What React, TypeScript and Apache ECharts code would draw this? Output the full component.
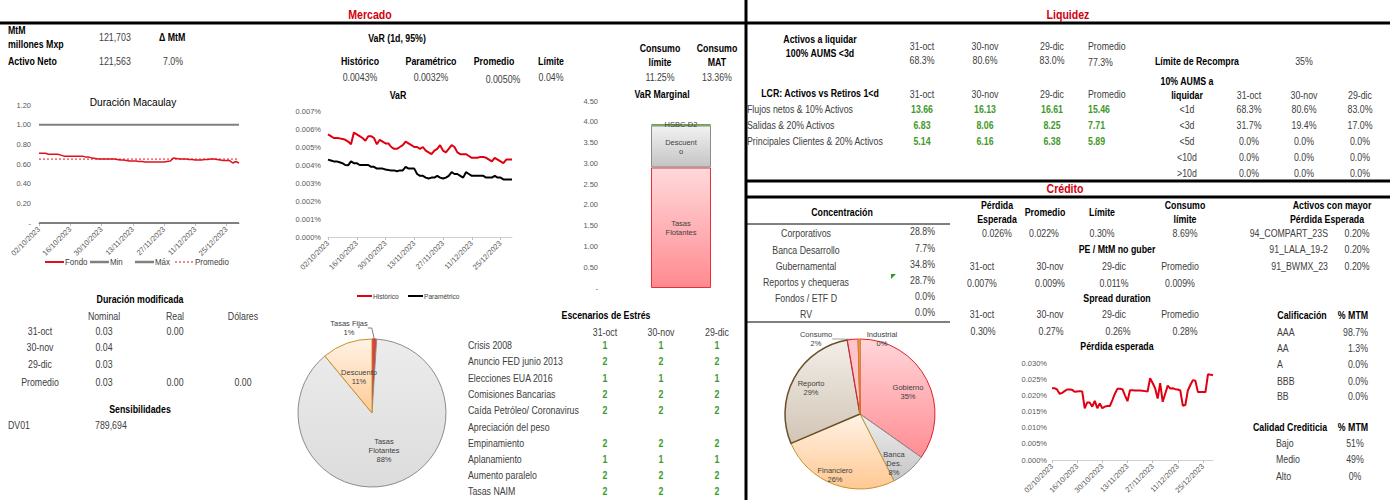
import React, { useEffect, useRef } from 'react';
import * as echarts from 'echarts';

const F = "'Liberation Sans', Arial, sans-serif";

// ---------- DATA ----------
const dates = [
  '02/10/2023','03/10/2023','04/10/2023','05/10/2023','06/10/2023','09/10/2023','10/10/2023','11/10/2023','12/10/2023','13/10/2023',
  '16/10/2023','17/10/2023','18/10/2023','19/10/2023','20/10/2023','23/10/2023','24/10/2023','25/10/2023','26/10/2023','27/10/2023',
  '30/10/2023','31/10/2023','01/11/2023','02/11/2023','03/11/2023','06/11/2023','07/11/2023','08/11/2023','09/11/2023','10/11/2023',
  '13/11/2023','14/11/2023','15/11/2023','16/11/2023','17/11/2023','20/11/2023','21/11/2023','22/11/2023','23/11/2023','24/11/2023',
  '27/11/2023','28/11/2023','29/11/2023','30/11/2023','01/12/2023','04/12/2023','05/12/2023','06/12/2023','07/12/2023','08/12/2023',
  '11/12/2023','12/12/2023','13/12/2023','14/12/2023','15/12/2023','18/12/2023','19/12/2023','20/12/2023','21/12/2023','22/12/2023',
  '25/12/2023','26/12/2023','27/12/2023','28/12/2023','29/12/2023'
];

const durFondo = [
  0.71,0.71,0.71,0.70,0.70,0.70,0.70,0.69,0.68,0.68,
  0.68,0.68,0.68,0.68,0.68,0.67,0.67,0.66,0.655,0.65,
  0.65,0.65,0.65,0.65,0.65,0.645,0.64,0.64,0.635,0.63,
  0.63,0.63,0.625,0.625,0.62,0.62,0.62,0.62,0.62,0.62,
  0.62,0.625,0.63,0.66,0.655,0.65,0.65,0.65,0.645,0.645,
  0.64,0.64,0.64,0.645,0.645,0.65,0.65,0.645,0.64,0.635,
  0.635,0.635,0.61,0.625,0.61
];
const durMin = 0;
const durMax = 1.0;
const durProm = 0.65;

const varHist = [
  0.0057,0.0056,0.0055,0.0055,0.00548,0.00545,0.0054,0.0053,0.00515,0.0058,
  0.0057,0.0056,0.0055,0.00535,0.0056,0.0056,0.0055,0.00515,0.0054,0.0053,
  0.0052,0.0052,0.005,0.0049,0.0049,0.005,0.0051,0.0053,0.0052,0.0051,
  0.005,0.005,0.0049,0.005,0.0048,0.0047,0.0046,0.0048,0.0049,0.0051,
  0.0048,0.0047,0.0049,0.0051,0.005,0.0047,0.0046,0.0046,0.0046,0.0045,
  0.0044,0.0044,0.0044,0.00445,0.00445,0.0044,0.0043,0.0042,0.0044,0.0043,
  0.0042,0.0041,0.0043,0.0043,0.0043
];
const varParam = [
  0.0043,0.00425,0.0042,0.0042,0.00415,0.0041,0.004,0.00398,0.0042,0.0041,
  0.0041,0.004,0.004,0.004,0.004,0.0039,0.0039,0.0038,0.0038,0.0038,
  0.00375,0.00372,0.0037,0.0037,0.00365,0.0037,0.0037,0.0039,0.0038,0.0038,
  0.0038,0.0035,0.0034,0.0034,0.0033,0.00325,0.0033,0.0033,0.0034,0.0033,
  0.00325,0.0033,0.0034,0.0036,0.0035,0.0035,0.0034,0.0033,0.0036,0.0035,
  0.0034,0.0034,0.0034,0.0034,0.0034,0.0033,0.0033,0.0033,0.0034,0.0033,
  0.0033,0.0032,0.0032,0.0032,0.0032
];

const perdida = [
  0.0222,0.0222,0.0218,0.0205,0.0207,0.0213,0.0218,0.0218,0.0217,0.0211,
  0.0212,0.0213,0.0212,0.016,0.0178,0.0178,0.0165,0.0183,0.016,0.0175,
  0.016,0.0165,0.0167,0.0167,0.0185,0.0205,0.022,0.022,0.0219,0.02,
  0.0182,0.0216,0.0216,0.0215,0.0215,0.0215,0.0214,0.0213,0.0212,0.0253,
  0.0238,0.0222,0.019,0.0238,0.018,0.0205,0.023,0.0221,0.0222,0.0219,
  0.0218,0.0215,0.0168,0.017,0.0215,0.0232,0.0247,0.0245,0.021,0.021,
  0.021,0.021,0.0265,0.0264,0.0262
];

const varMargNames = ['Tasas Flotantes', 'Descuento', 'HSBC-D2'];
const varMargLabels = ['Tasas\nFlotantes', 'Descuent\no', 'HSBC-D2'];
const varMargValues = [2.90, 1.01, 0.03];

const pie1Names = ['Tasas Fijas', 'Tasas Flotantes', 'Descuento'];
const pie1Values = [1, 88, 11];

const pie2Names = ['Gobierno', 'Banca Des.', 'Financiero', 'Reporto', 'Consumo', 'Industrial'];
const pie2Values = [34.8, 7.7, 26.1, 28.7, 2.3, 0.4];

// tables
const cutDates = ['31-oct', '30-nov', '29-dic'];
const aums100 = ['68.3%', '80.6%', '83.0%'];
const aums100Avg = '77.3%';
const lcrRows = ['Flujos netos & 10% Activos', 'Salidas & 20% Activos', 'Principales Clientes & 20% Activos'];
const lcrVals = [['13.66', '16.13', '16.61', '15.46'], ['6.83', '8.06', '8.25', '7.71'], ['5.14', '6.16', '6.38', '5.89']];
const aums10Rows = ['<1d', '<3d', '<5d', '<10d', '>10d'];
const aums10Vals = [['68.3%', '80.6%', '83.0%'], ['31.7%', '19.4%', '17.0%'], ['0.0%', '0.0%', '0.0%'], ['0.0%', '0.0%', '0.0%'], ['0.0%', '0.0%', '0.0%']];

const durModRows = ['31-oct', '30-nov', '29-dic', 'Promedio'];
const durModVals = [['0.03', '0.00', ''], ['0.04', '', ''], ['0.03', '', ''], ['0.03', '0.00', '0.00']];

const stressRows = ['Crisis 2008', 'Anuncio FED junio 2013', 'Elecciones EUA 2016', 'Comisiones Bancarias', 'Caída Petróleo/ Coronavirus', 'Apreciación del peso', 'Empinamiento', 'Aplanamiento', 'Aumento paralelo', 'Tasas NAIM'];
const stressVals = [['1', '1', '1'], ['2', '2', '2'], ['1', '1', '1'], ['2', '2', '2'], ['2', '2', '2'], ['', '', ''], ['2', '2', '2'], ['1', '1', '1'], ['2', '2', '2'], ['2', '2', '2']];

const concRows = ['Corporativos', 'Banca Desarrollo', 'Gubernamental', 'Reportos y chequeras', 'Fondos / ETF D', 'RV'];
const concVals = ['28.8%', '7.7%', '34.8%', '28.7%', '0.0%', '0.0%'];

const peVals = ['0.026%', '0.022%', '0.30%', '8.69%'];
const peMtm = ['0.007%', '0.009%', '0.011%', '0.009%'];
const spreadDur = ['0.30%', '0.27%', '0.26%', '0.28%'];

const topPeNames = ['94_COMPART_23S', '91_LALA_19-2', '91_BWMX_23'];
const topPeVals = ['0.20%', '0.20%', '0.20%'];

const califRows = ['AAA', 'AA', 'A', 'BBB', 'BB'];
const califVals = ['98.7%', '1.3%', '0.0%', '0.0%', '0.0%'];
const calidadRows = ['Bajo', 'Medio', 'Alto'];
const calidadVals = ['51%', '49%', '0%'];

const durLegend = ['Fondo', 'Min', 'Máx', 'Promedio'];
const varLegend = ['Histórico', 'Paramétrico'];

// ---------- HELPERS ----------
const TXT = '#404040';
const GREEN = '#3f9a2a';
const RED_T = '#d00010';
const SX = 0.88;

function tx(x: number, y: number, text: string, o: any = {}) {
  const align = o.align || 'center';
  return {
    type: 'text', x, y, silent: true, z: 10, scaleX: o.sx || SX,
    style: {
      text,
      fill: o.color || (o.bold ? '#000' : TXT),
      fontSize: o.size || 10,
      fontWeight: o.bold ? 'bold' : 'normal',
      fontFamily: F,
      align, verticalAlign: 'middle',
      textAlign: align, textVerticalAlign: 'middle',
    },
  };
}
function ln(x1: number, y1: number, x2: number, y2: number, w: number, color = '#000', dash?: number[]) {
  const style: any = { stroke: color, lineWidth: w };
  if (dash) style.lineDash = dash;
  return { type: 'line', silent: true, z: 10, shape: { x1, y1, x2, y2 }, style };
}
function grad(a: string, b: string) {
  return new echarts.graphic.LinearGradient(0, 0, 0, 1, [{ offset: 0, color: a }, { offset: 1, color: b }]);
}

function buildGraphics() {
  const g: any[] = [];
  // structure lines
  g.push(ln(0, 23, 1390, 23, 3));
  g.push(ln(746, 0, 746, 500, 3));
  g.push(ln(746, 181, 1390, 181, 3));
  g.push(ln(746, 197, 1390, 197, 3));
  g.push(ln(746, 224, 950, 224, 1));
  g.push(ln(746, 322, 950, 322, 1));
  // titles
  g.push(tx(370, 15, 'Mercado', { bold: true, color: RED_T, size: 12 }));
  g.push(tx(1068, 15, 'Liquidez', { bold: true, color: RED_T, size: 12 }));
  g.push(tx(1065, 189, 'Crédito', { bold: true, color: RED_T, size: 12 }));

  // Mercado top-left
  g.push(tx(8, 30, 'MtM', { bold: true, align: 'left' }));
  g.push(tx(8, 44, 'millones Mxp', { bold: true, align: 'left' }));
  g.push(tx(99, 37, '121,703', { align: 'left' }));
  g.push(tx(159, 37, 'Δ MtM', { bold: true, align: 'left' }));
  g.push(tx(8, 61, 'Activo Neto', { bold: true, align: 'left' }));
  g.push(tx(99, 61, '121,563', { align: 'left' }));
  g.push(tx(163, 61, '7.0%', { align: 'left' }));

  // VaR header
  g.push(tx(397, 38, 'VaR (1d, 95%)', { bold: true }));
  g.push(tx(360, 61, 'Histórico', { bold: true }));
  g.push(tx(431, 61, 'Paramétrico', { bold: true }));
  g.push(tx(494, 61, 'Promedio', { bold: true }));
  g.push(tx(551, 61, 'Límite', { bold: true }));
  g.push(tx(360, 77, '0.0043%'));
  g.push(tx(431, 77, '0.0032%'));
  g.push(tx(503, 79, '0.0050%'));
  g.push(tx(551, 77, '0.04%'));
  g.push(tx(660, 48, 'Consumo', { bold: true }));
  g.push(tx(660, 62, 'límite', { bold: true }));
  g.push(tx(717, 48, 'Consumo', { bold: true }));
  g.push(tx(717, 62, 'MAT', { bold: true }));
  g.push(tx(660, 77, '11.25%'));
  g.push(tx(717, 77, '13.36%'));
  g.push(tx(398, 95, 'VaR', { bold: true }));
  g.push(tx(662, 94, 'VaR Marginal', { bold: true }));
  g.push(tx(133, 102, 'Duración Macaulay', { color: '#000', size: 11.5 }));

  // Duration legend (Excel style)
  const dlX = [45, 90, 135, 175];
  const dlStyles = [
    { c: '#e0101c', w: 2, d: undefined },
    { c: '#808080', w: 2.5, d: undefined },
    { c: '#808080', w: 2.5, d: undefined },
    { c: '#e0101c', w: 1.2, d: [2, 2] },
  ];
  durLegend.forEach((n, i) => {
    const s = dlStyles[i];
    g.push(ln(dlX[i], 262, dlX[i] + 19, 262, s.w, s.c, s.d));
    g.push(tx(dlX[i] + 20, 262, n, { align: 'left', size: 9 }));
  });
  // VaR legend
  const vlX = [357, 408];
  const vlC = ['#e00010', '#000'];
  varLegend.forEach((n, i) => {
    g.push(ln(vlX[i], 296, vlX[i] + 15, 296, 2, vlC[i]));
    g.push(tx(vlX[i] + 16, 296, n, { align: 'left', size: 7.5 }));
  });

  // Duración modificada
  g.push(tx(140, 299, 'Duración modificada', { bold: true }));
  const dmCols = [104, 175, 243];
  ['Nominal', 'Real', 'Dólares'].forEach((h, i) => g.push(tx(dmCols[i], 316, h)));
  const dmY = [331, 347, 364, 382];
  durModRows.forEach((r, i) => {
    g.push(tx(40, dmY[i], r));
    durModVals[i].forEach((v, j) => { if (v) g.push(tx(dmCols[j], dmY[i], v)); });
  });
  g.push(tx(140, 409, 'Sensibilidades', { bold: true }));
  g.push(tx(8, 425, 'DV01', { align: 'left' }));
  g.push(tx(95, 425, '789,694', { align: 'left' }));

  // Escenarios de estrés
  g.push(tx(606, 315, 'Escenarios de Estrés', { bold: true }));
  const stCols = [605, 661, 717];
  cutDates.forEach((d, i) => g.push(tx(stCols[i], 332, d)));
  const stY = [345, 361, 378, 394, 410, 427, 443, 459, 475, 491];
  stressRows.forEach((r, i) => {
    g.push(tx(468, stY[i], r, { align: 'left' }));
    stressVals[i].forEach((v, j) => { if (v) g.push(tx(stCols[j], stY[i], v, { bold: true, color: GREEN })); });
  });

  // Liquidez
  g.push(tx(820, 39, 'Activos a liquidar', { bold: true }));
  g.push(tx(820, 53, '100% AUMS <3d', { bold: true }));
  const lqCols = [922, 985, 1052];
  cutDates.forEach((d, i) => { g.push(tx(lqCols[i], 46, d)); g.push(tx(lqCols[i], 60, aums100[i])); });
  g.push(tx(1088, 46, 'Promedio', { align: 'left' }));
  g.push(tx(1088, 62, aums100Avg, { align: 'left' }));
  g.push(tx(1155, 61, 'Límite de Recompra', { bold: true, align: 'left' }));
  g.push(tx(1304, 61, '35%'));

  g.push(tx(820, 93, 'LCR: Activos vs Retiros 1<d', { bold: true }));
  cutDates.forEach((d, i) => g.push(tx(lqCols[i], 94, d)));
  g.push(tx(1088, 94, 'Promedio', { align: 'left' }));
  const lcrY = [109, 125, 141];
  lcrRows.forEach((r, i) => {
    g.push(tx(747, lcrY[i], r, { align: 'left' }));
    lcrVals[i].forEach((v, j) => {
      if (j < 3) g.push(tx(lqCols[j], lcrY[i], v, { bold: true, color: GREEN }));
      else g.push(tx(1088, lcrY[i], v, { bold: true, color: GREEN, align: 'left' }));
    });
  });

  g.push(tx(1187, 81, '10% AUMS a', { bold: true }));
  g.push(tx(1187, 95, 'liquidar', { bold: true }));
  const a10Cols = [1249, 1304, 1360];
  cutDates.forEach((d, i) => g.push(tx(a10Cols[i], 95, d)));
  const a10Y = [109, 125, 141, 157, 173];
  aums10Rows.forEach((r, i) => {
    g.push(tx(1187, a10Y[i], r));
    aums10Vals[i].forEach((v, j) => g.push(tx(a10Cols[j], a10Y[i], v)));
  });

  // Crédito
  g.push(tx(842, 212, 'Concentración', { bold: true }));
  const cY = [233, 250, 266, 282, 298, 314];
  concRows.forEach((r, i) => {
    g.push(tx(806, cY[i], r));
    g.push(tx(935, cY[i] - 2, concVals[i], { align: 'right' }));
  });
  g.push({ type: 'polygon', silent: true, shape: { points: [[891, 274], [896, 274], [891, 279]] }, style: { fill: '#2e9a2e' } });

  g.push(tx(997, 205, 'Pérdida', { bold: true }));
  g.push(tx(997, 219, 'Esperada', { bold: true }));
  g.push(tx(1045, 212, 'Promedio', { bold: true }));
  g.push(tx(1102, 212, 'Límite', { bold: true }));
  g.push(tx(1185, 205, 'Consumo', { bold: true }));
  g.push(tx(1185, 219, 'límite', { bold: true }));
  const peCols = [997, 1044, 1102, 1185];
  peVals.forEach((v, i) => g.push(tx(peCols[i], 233, v)));

  const crCols = [982, 1050, 1114, 1180];
  g.push(tx(1117, 249, 'PE / MtM no guber', { bold: true }));
  [...cutDates, 'Promedio'].forEach((d, i) => g.push(tx(crCols[i], 266, d)));
  peMtm.forEach((v, i) => g.push(tx(crCols[i], 283, v)));
  g.push(tx(1117, 298, 'Spread duration', { bold: true }));
  [...cutDates, 'Promedio'].forEach((d, i) => g.push(tx(crCols[i], 314, d)));
  const sdCols = [983, 1051, 1118, 1185];
  spreadDur.forEach((v, i) => g.push(tx(sdCols[i], 331, v)));
  g.push(tx(1117, 346, 'Pérdida esperada', { bold: true }));

  g.push(tx(1332, 205, 'Activos con mayor', { bold: true }));
  g.push(tx(1327, 219, 'Pérdida Esperada', { bold: true }));
  const tpY = [233, 249, 266];
  topPeNames.forEach((n, i) => {
    g.push(tx(1328, tpY[i], n, { align: 'right' }));
    g.push(tx(1357, tpY[i], topPeVals[i]));
  });

  g.push(tx(1302, 315, 'Calificación', { bold: true }));
  g.push(tx(1353, 315, '% MTM', { bold: true }));
  const clY = [332, 348, 364, 381, 396];
  califRows.forEach((r, i) => {
    g.push(tx(1277, clY[i], r, { align: 'left' }));
    g.push(tx(1368, clY[i], califVals[i], { align: 'right' }));
  });
  g.push(tx(1290, 427, 'Calidad Crediticia', { bold: true }));
  g.push(tx(1353, 427, '% MTM', { bold: true }));
  const cdY = [443, 459, 476];
  calidadRows.forEach((r, i) => {
    g.push(tx(1276, cdY[i], r, { align: 'left' }));
    g.push(tx(1355, cdY[i], calidadVals[i]));
  });
  return g;
}

const AXF = 7.5;
const dateAxis = (gi: number, lineColor: string) => ({
  type: 'category', gridIndex: gi, data: dates, boundaryGap: false,
  axisLine: { show: true, lineStyle: { color: lineColor, width: 1 } },
  axisTick: { show: true, interval: 9, length: 3, lineStyle: { color: '#bfbfbf' } },
  axisLabel: { interval: 9, rotate: 45, fontSize: AXF, color: '#595959', margin: 5, fontFamily: F },
  splitLine: { show: false },
});
const valAxis = (gi: number, max: number, interval: number, fmt: (v: number) => string, margin: number) => ({
  type: 'value', gridIndex: gi, min: 0, max, interval,
  axisLine: { show: false }, axisTick: { show: false }, splitLine: { show: false },
  axisLabel: { fontSize: AXF, color: '#595959', margin, formatter: fmt, fontFamily: F },
});

function buildOption() {
  const pie1Colors = [
    { color: '#e04040', borderColor: '#c02020' },
    { color: grad('#ececec', '#dcdcdc'), borderColor: '#8c8c8c' },
    { color: grad('#fff3e6', '#ffca94'), borderColor: '#c8922a' },
  ];
  const pie1Pos = [[349, 328], [384, 450], [359, 377]];
  const pie2Colors = [
    { color: grad('#ffd6d9', '#ff8d93'), borderColor: '#e01f2d' },
    { color: grad('#eeeeee', '#c6c6c6'), borderColor: '#8c8c8c' },
    { color: grad('#fff3e6', '#ffc892'), borderColor: '#c8922a' },
    { color: grad('#f2eee9', '#d2c5b5'), borderColor: '#6b4f2c' },
    { color: '#ffc4cb', borderColor: '#e01f2d' },
    { color: '#ffb060', borderColor: '#d08020' },
  ];
  const pie2Pos = [[908, 392], [894, 463], [835, 475], [811, 388], [816, 339], [882, 339]];

  const splitName = (p: any) => p.name.replace(' ', '\n') + '\n' + p.percent + '%';
  const pieLabel = { formatter: splitName, fontSize: 7.5, color: TXT, lineHeight: 9, fontFamily: F };

  return {
    animation: false,
    backgroundColor: '#fff',
    textStyle: { fontFamily: F },
    grid: [
      { left: 39, top: 105, width: 200, height: 118 },
      { left: 328, top: 111, width: 184, height: 126 },
      { left: 651, top: 101, width: 60, height: 187 },
      { left: 1052, top: 363, width: 161, height: 97 },
    ],
    xAxis: [
      dateAxis(0, '#808080'),
      dateAxis(1, '#d0d0d0'),
      { type: 'category', gridIndex: 2, data: ['VaR Marginal'], show: false },
      dateAxis(3, '#d0d0d0'),
    ],
    yAxis: [
      valAxis(0, 1.2, 0.2, (v: number) => (v === 0 ? '-' : v.toFixed(2)), 8),
      valAxis(1, 0.007, 0.001, (v: number) => v.toFixed(3) + '%', 7),
      valAxis(2, 4.5, 0.5, (v: number) => (v === 0 ? '-' : v.toFixed(2)), 53),
      valAxis(3, 0.03, 0.005, (v: number) => v.toFixed(3) + '%', 5),
    ],
    series: [
      { name: 'Min', type: 'line', xAxisIndex: 0, yAxisIndex: 0, data: dates.map(() => durMin), symbol: 'none', clip: false, lineStyle: { color: '#808080', width: 2 }, itemStyle: { color: '#808080' } },
      { name: 'Máx', type: 'line', xAxisIndex: 0, yAxisIndex: 0, data: dates.map(() => durMax), symbol: 'none', lineStyle: { color: '#808080', width: 2 }, itemStyle: { color: '#808080' } },
      { name: 'Promedio', type: 'line', xAxisIndex: 0, yAxisIndex: 0, data: dates.map(() => durProm), symbol: 'none', lineStyle: { color: '#e0101c', width: 1, type: [2, 2] }, itemStyle: { color: '#e0101c' } },
      { name: 'Fondo', type: 'line', xAxisIndex: 0, yAxisIndex: 0, data: durFondo, symbol: 'none', z: 5, lineStyle: { color: '#e0101c', width: 1.5 }, itemStyle: { color: '#e0101c' } },

      { name: 'Histórico', type: 'line', xAxisIndex: 1, yAxisIndex: 1, data: varHist, symbol: 'none', lineStyle: { color: '#e00010', width: 2 }, itemStyle: { color: '#e00010' } },
      { name: 'Paramétrico', type: 'line', xAxisIndex: 1, yAxisIndex: 1, data: varParam, symbol: 'none', lineStyle: { color: '#000', width: 2 }, itemStyle: { color: '#000' } },

      ...varMargNames.map((n, i) => ({
        name: n, type: 'bar', stack: 'vm', xAxisIndex: 2, yAxisIndex: 2, barWidth: '100%',
        data: [varMargValues[i]],
        itemStyle: i === 0
          ? { color: grad('#ffd9db', '#ff8a90'), borderColor: '#e8303a', borderWidth: 1 }
          : i === 1
            ? { color: grad('#f2f2f2', '#c4c4c4'), borderColor: '#8c8c8c', borderWidth: 1 }
            : { color: '#5a9a3a', borderColor: '#5a9a3a', borderWidth: 1 },
        label: { show: true, position: 'inside', formatter: varMargLabels[i], fontSize: 7.5, color: TXT, lineHeight: 9, fontFamily: F },
      })),

      {
        name: 'pie1', type: 'pie', center: [372, 413], radius: 74, startAngle: 90, clockwise: true,
        percentPrecision: 0, avoidLabelOverlap: false,
        data: pie1Names.map((n, i) => ({
          name: n, value: pie1Values[i],
          itemStyle: { ...pie1Colors[i], borderWidth: 1 },
          label: i === 0 ? { position: 'outside', formatter: '{b}\n{d}%' } : { position: 'inside' },
          labelLine: { show: i === 0, length: 4, length2: 4, lineStyle: { color: '#808080', width: 1 } },
        })),
        label: pieLabel,
        labelLayout: (p: any) => ({ x: pie1Pos[p.dataIndex][0], y: pie1Pos[p.dataIndex][1], align: 'center', verticalAlign: 'middle' }),
      },
      {
        name: 'pie2', type: 'pie', center: [860, 414], radius: 75, startAngle: 90, clockwise: true,
        percentPrecision: 0, avoidLabelOverlap: false,
        data: pie2Names.map((n, i) => ({
          name: n, value: pie2Values[i],
          itemStyle: { ...pie2Colors[i], borderWidth: i === 3 ? 1.5 : 1 },
          label: { position: i >= 4 ? 'outside' : 'inside' },
          labelLine: { show: i === 4, length: 4, length2: 6, lineStyle: { color: '#a0a0a0', width: 1 } },
        })),
        label: pieLabel,
        labelLayout: (p: any) => ({ x: pie2Pos[p.dataIndex][0], y: pie2Pos[p.dataIndex][1], align: 'center', verticalAlign: 'middle' }),
      },

      { name: 'Pérdida esperada', type: 'line', xAxisIndex: 3, yAxisIndex: 3, data: perdida, symbol: 'none', lineStyle: { color: '#e00010', width: 2 }, itemStyle: { color: '#e00010' } },
    ],
    graphic: { elements: buildGraphics() },
  };
}

export default function App() {
  const ref = useRef<HTMLDivElement>(null);
  useEffect(() => {
    const chart = echarts.init(ref.current!, null, { renderer: 'svg' });
    chart.setOption(buildOption() as any);
    return () => chart.dispose();
  }, []);
  return (
    <div
      ref={ref}
      style={{ position: 'absolute', left: 0, top: 0, width: 1390, height: 500, background: '#fff' }}
    />
  );
}
